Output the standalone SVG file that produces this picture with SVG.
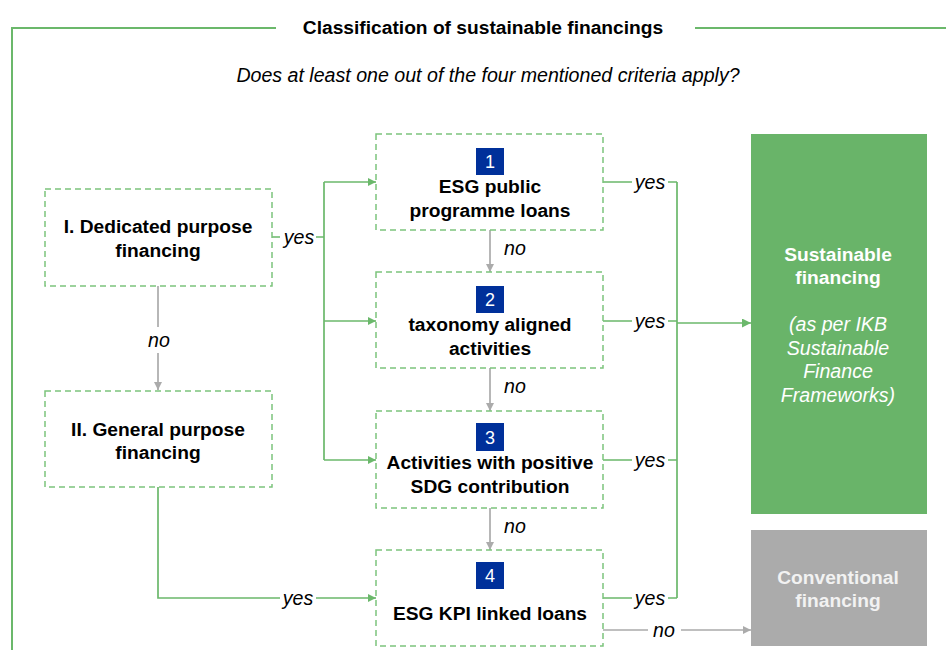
<svg xmlns="http://www.w3.org/2000/svg" width="946" height="650" viewBox="0 0 946 650">
<defs>
<style>
.box{fill:#fff;stroke:#7cc47c;stroke-width:1.5;stroke-dasharray:6 4}
.t{font-family:"Liberation Sans",Arial,sans-serif;font-size:19.2px;font-weight:bold;fill:#000;text-anchor:middle}
.lbl{font-family:"Liberation Sans",Arial,sans-serif;font-size:19.6px;font-style:italic;fill:#000;text-anchor:middle}
.g{fill:none;stroke:#6bb86b;stroke-width:1.7}
.gr{fill:none;stroke:#ababab;stroke-width:1.7}
.badge{fill:#00309a}
.num{font-family:"Liberation Sans",Arial,sans-serif;font-size:18px;fill:#fff;text-anchor:middle}
</style>
<marker id="ag" viewBox="0 0 10 10" refX="10" refY="5" markerWidth="8" markerHeight="8" markerUnits="userSpaceOnUse" orient="auto"><path d="M0,0L10,5L0,10z" fill="#6bb86b"/></marker>
<marker id="ag2" viewBox="0 0 10 10" refX="10" refY="5" markerWidth="9" markerHeight="9" markerUnits="userSpaceOnUse" orient="auto"><path d="M0,0L10,5L0,10z" fill="#6bb86b"/></marker>
<marker id="agr" viewBox="0 0 10 10" refX="10" refY="5" markerWidth="8" markerHeight="8" markerUnits="userSpaceOnUse" orient="auto"><path d="M0,0L10,5L0,10z" fill="#ababab"/></marker>
</defs>
<rect width="946" height="650" fill="#fff"/>
<g id="frame">
<path d="M12,650V28H276M695,28H946" fill="none" stroke="#6bb86b" stroke-width="2"/>
<text x="483" y="34" class="t">Classification of sustainable financings</text>
<text x="488" y="82" class="lbl">Does at least one out of the four mentioned criteria apply?</text>
</g>
<g id="connectors">
<path class="g" d="M272,237H280M316,237H324M324,182V460" />
<path class="g" d="M324,182H376" marker-end="url(#ag)"/>
<path class="g" d="M324,321H376" marker-end="url(#ag)"/>
<path class="g" d="M324,460H376" marker-end="url(#ag)"/>
<path class="g" d="M158,487V598H280M316,598H376" marker-end="url(#ag)"/>
<path class="gr" d="M158,286V327M158,353V390" marker-end="url(#agr)"/>
<path class="gr" d="M490,230V272" marker-end="url(#agr)"/>
<path class="gr" d="M490,368V411" marker-end="url(#agr)"/>
<path class="gr" d="M490,508V550" marker-end="url(#agr)"/>
<path class="g" d="M603,182H632M668,182H677M603,321H632M668,321H677M603,460H632M668,460H677M603,598H632M668,598H677M677,182V598"/>
<path class="g" d="M677,323H751" stroke-width="2.2" marker-end="url(#ag2)"/>
<path class="gr" d="M603,630H648M681,630H751" marker-end="url(#agr)"/>
<text x="299" y="244" class="lbl">yes</text>
<text x="298" y="605" class="lbl">yes</text>
<text x="159" y="347" class="lbl">no</text>
<text x="515" y="255" class="lbl">no</text>
<text x="515" y="393" class="lbl">no</text>
<text x="515" y="533" class="lbl">no</text>
<text x="650" y="189" class="lbl">yes</text>
<text x="650" y="328" class="lbl">yes</text>
<text x="650" y="467" class="lbl">yes</text>
<text x="650" y="605" class="lbl">yes</text>
<text x="664" y="637" class="lbl">no</text>
</g>
<g id="nodeI">
<rect class="box" x="45" y="189" width="227" height="97"/>
<text x="158" y="233" class="t">I. Dedicated purpose</text>
<text x="158" y="257" class="t">financing</text>
</g>
<g id="nodeII">
<rect class="box" x="45" y="391" width="227" height="96"/>
<text x="158" y="436" class="t">II. General purpose</text>
<text x="158" y="459" class="t">financing</text>
</g>
<g id="node1">
<rect class="box" x="376" y="134" width="227" height="96"/>
<rect class="badge" x="476" y="148" width="28" height="27"/>
<text x="490" y="168" class="num">1</text>
<text x="490" y="193" class="t">ESG public</text>
<text x="490" y="217" class="t">programme loans</text>
</g>
<g id="node2">
<rect class="box" x="376" y="272" width="227" height="96"/>
<rect class="badge" x="476" y="286" width="28" height="27"/>
<text x="490" y="306" class="num">2</text>
<text x="490" y="331" class="t">taxonomy aligned</text>
<text x="490" y="355" class="t">activities</text>
</g>
<g id="node3">
<rect class="box" x="376" y="411" width="227" height="97"/>
<rect class="badge" x="476" y="423" width="28" height="28"/>
<text x="490" y="444" class="num">3</text>
<text x="490" y="469" class="t">Activities with positive</text>
<text x="490" y="493" class="t">SDG contribution</text>
</g>
<g id="node4">
<rect class="box" x="376" y="550" width="227" height="96"/>
<rect class="badge" x="476" y="562" width="28" height="27"/>
<text x="490" y="582" class="num">4</text>
<text x="490" y="620" class="t">ESG KPI linked loans</text>
</g>
<g id="sustainable">
<rect x="751" y="134" width="176" height="380" fill="#69b469"/>
<text x="838" y="261" class="t" style="fill:#fff">Sustainable</text>
<text x="838" y="284" class="t" style="fill:#fff">financing</text>
<text x="838" y="331" class="lbl" style="fill:#fff">(as per IKB</text>
<text x="838" y="355" class="lbl" style="fill:#fff">Sustainable</text>
<text x="838" y="378" class="lbl" style="fill:#fff">Finance</text>
<text x="838" y="402" class="lbl" style="fill:#fff">Frameworks)</text>
</g>
<g id="conventional">
<rect x="751" y="530" width="176" height="116" fill="#ababab"/>
<text x="838" y="584" class="t" style="fill:#f2f2f2">Conventional</text>
<text x="838" y="607" class="t" style="fill:#f2f2f2">financing</text>
</g>
</svg>
